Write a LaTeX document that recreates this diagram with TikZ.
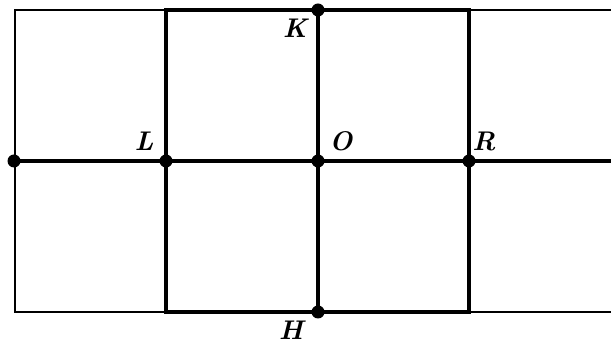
\documentclass[tikz,border=0pt]{standalone}
\begin{document}
\begin{tikzpicture}[x=0.5pt,y=-0.5pt,
  heavy/.style={line width=2.2pt},
  light/.style={line width=1.1pt},
  dot/.style={circle,fill=black,inner sep=0pt,minimum size=6.5pt},
  lab/.style={font=\fontsize{13.5}{16}\selectfont\bfseries\itshape,inner sep=0pt}]
\useasboundingbox (0,0) rectangle (611,347);
\coordinate (TL) at (15,10);
\coordinate (TR) at (611,10);
\coordinate (BL) at (15,312);
\coordinate (BR) at (611,312);
\coordinate (A) at (166,10);
\coordinate (B) at (469,10);
\coordinate (C) at (166,312);
\coordinate (D) at (469,312);
\coordinate (E) at (611,161);
% thin outer lines
\draw[light] (A) -- (TL) -- (BL) -- (C);
\draw[light] (B) -- (TR);
\draw[light] (D) -- (BR);
% heavy lines
\draw[heavy] (A) -- (B) -- (D) -- (C) -- cycle;
\node[dot] (W) at (14,161) {};
\node[dot] (L) at (166,161) {};
\node[dot] (O) at (318,161) {};
\node[dot] (R) at (469,161) {};
\node[dot] (K) at (318,10) {};
\node[dot] (H) at (318,312) {};
\draw[heavy] (W.center) -- (E);
\draw[heavy] (K.center) -- (H.center);
% labels
\node[lab] (lK) at (295,28) {K};
\node[lab] (lL) at (144,141) {L};
\node[lab] (lO) at (341,141) {O};
\node[lab] (lR) at (484,141) {R};
\node[lab] (lH) at (291,330) {H};
\end{tikzpicture}
\end{document}
